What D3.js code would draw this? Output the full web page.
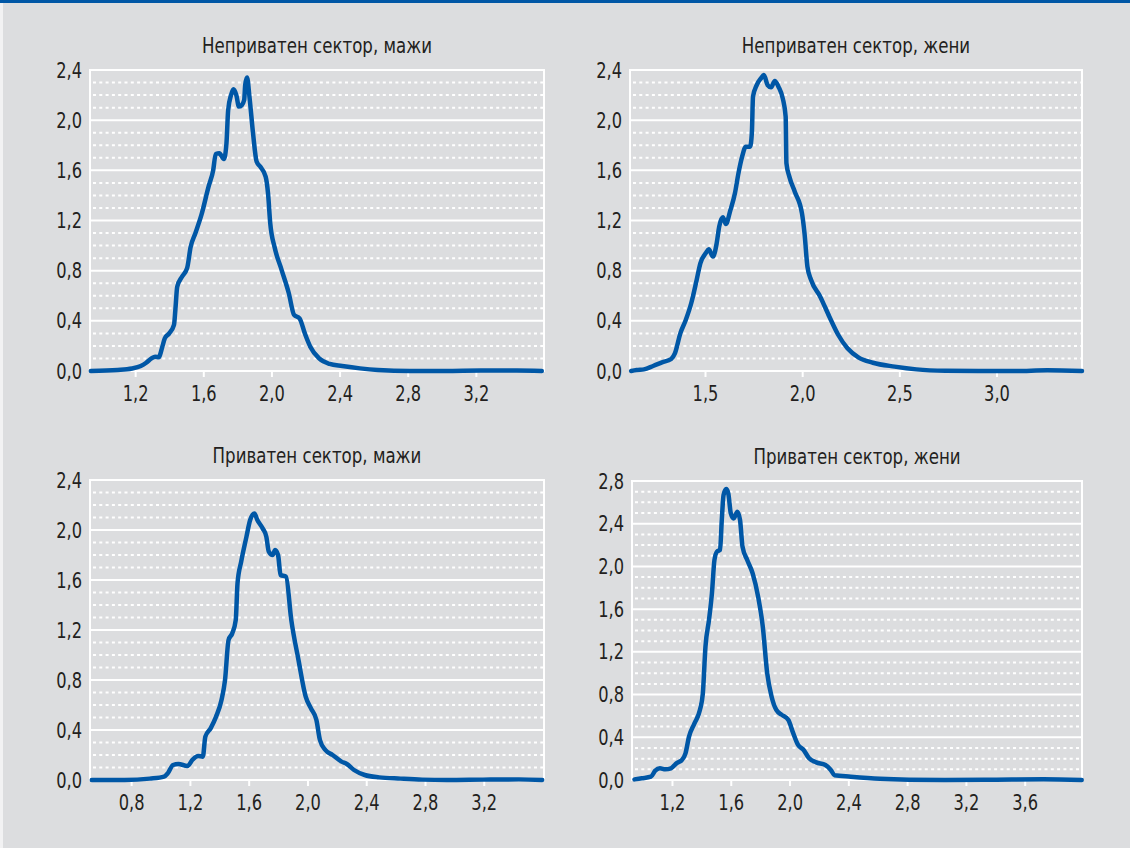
<!DOCTYPE html>
<html>
<head>
<meta charset="utf-8">
<script src="https://cdn.jsdelivr.net/npm/d3@7"></script>
<style>
  html, body { margin: 0; padding: 0; background: #dcdddf; }
  svg { display: block; }
  text { font-family: "Liberation Sans Narrow", "DejaVu Sans Condensed", "Liberation Sans", sans-serif; fill: #231f20; }
</style>
</head>
<body>
<div id="chart"></div>
<script>
// panel titles
var titles = [
  "Неприватен сектор, мажи",
  "Неприватен сектор, жени",
  "Приватен сектор, мажи",
  "Приватен сектор, жени"
];

// tick labels
var xTicksNonPrivMen = [1.2, 1.6, 2.0, 2.4, 2.8, 3.2];
var xTicksNonPrivWomen = [1.5, 2.0, 2.5, 3.0];
var xTicksPrivMen = [0.8, 1.2, 1.6, 2.0, 2.4, 2.8, 3.2];
var xTicksPrivWomen = [1.2, 1.6, 2.0, 2.4, 2.8, 3.2, 3.6];
var yTicks24 = [0, 0.4, 0.8, 1.2, 1.6, 2.0, 2.4];
var yTicks28 = [0, 0.4, 0.8, 1.2, 1.6, 2.0, 2.4, 2.8];

// x ranges shown
var xDomNonPrivMen = [0.935, 3.6];
var xDomNonPrivWomen = [1.114, 3.44];
var xDomPrivMen = [0.52, 3.61];
var xDomPrivWomen = [0.928, 3.99];

// Неприватен сектор, мажи
var xNonPrivMen = [0.94, 1.097, 1.181, 1.233, 1.265, 1.296, 1.317, 1.338, 1.359, 1.374, 1.40, 1.428, 1.436, 1.447,
  1.474, 1.505, 1.526, 1.554, 1.589, 1.631, 1.658, 1.673, 1.694, 1.721, 1.736, 1.746, 1.763, 1.777, 1.794, 1.809,
  1.826, 1.84, 1.846, 1.857, 1.871, 1.892, 1.913, 1.934, 1.966, 1.98, 1.993, 2.018, 2.06, 2.102, 2.133, 2.165,
  2.196, 2.228, 2.28, 2.342, 2.415, 2.52, 2.625, 2.813, 3.02, 3.23, 3.44, 3.587];
var yNonPrivMen = [0, 0.008, 0.02, 0.04, 0.066, 0.10, 0.114, 0.109, 0.19, 0.26, 0.30, 0.367, 0.486, 0.672,
  0.75, 0.82, 0.99, 1.10, 1.244, 1.47, 1.60, 1.73, 1.736, 1.69, 1.815, 2.08, 2.20, 2.246, 2.20, 2.108,
  2.12, 2.16, 2.28, 2.34, 2.187, 1.895, 1.67, 1.63, 1.55, 1.417, 1.178, 0.99, 0.805, 0.62, 0.447, 0.42,
  0.30, 0.194, 0.10, 0.056, 0.04, 0.021, 0.008, 0.0, 0.0, 0.003, 0.003, 0];

// Неприватен сектор, жени
var xNonPrivWomen = [1.12, 1.148, 1.186, 1.233, 1.279, 1.326, 1.345, 1.373, 1.401, 1.429, 1.457, 1.476, 1.504,
  1.519, 1.541, 1.56, 1.573, 1.592, 1.607, 1.631, 1.654, 1.672, 1.691, 1.71, 1.732, 1.741, 1.747, 1.766, 1.788,
  1.803, 1.822, 1.84, 1.859, 1.878, 1.9, 1.915, 1.919, 1.934, 1.962, 1.999, 2.012, 2.027, 2.046, 2.093, 2.14,
  2.186, 2.233, 2.289, 2.364, 2.476, 2.588, 2.738, 2.906, 3.094, 3.262, 3.44];
var yNonPrivWomen = [0, 0.008, 0.013, 0.04, 0.069, 0.096, 0.14, 0.30, 0.407, 0.54, 0.726, 0.859, 0.94,
  0.97, 0.912, 1.018, 1.151, 1.225, 1.172, 1.284, 1.417, 1.576, 1.709, 1.789, 1.789, 1.895, 2.188, 2.28, 2.334,
  2.36, 2.28, 2.262, 2.312, 2.267, 2.174, 2.028, 1.656, 1.55, 1.43, 1.257, 1.098, 0.832, 0.726, 0.593, 0.433,
  0.287, 0.181, 0.109, 0.066, 0.035, 0.013, 0.002, 0, 0, 0.005, 0];

// Приватен сектор, мажи
var xPrivMen = [0.532, 0.756, 0.927, 1.024, 1.049, 1.085, 1.122, 1.183, 1.22, 1.256, 1.288, 1.305, 1.341, 1.378,
  1.415, 1.439, 1.463, 1.488, 1.512, 1.524, 1.549, 1.585, 1.61, 1.639, 1.659, 1.695, 1.72, 1.737, 1.763, 1.78,
  1.80, 1.817, 1.854, 1.89, 1.939, 1.988, 2.024, 2.061, 2.085, 2.122, 2.171, 2.232, 2.268, 2.317, 2.39, 2.488,
  2.634, 2.78, 2.95, 3.195, 3.439, 3.598];
var yPrivMen = [0, 0, 0.011, 0.027, 0.053, 0.12, 0.128, 0.112, 0.165, 0.192, 0.187, 0.347, 0.413, 0.507,
  0.64, 0.80, 1.12, 1.173, 1.28, 1.573, 1.747, 1.947, 2.08, 2.133, 2.08, 2.013, 1.947, 1.827, 1.80, 1.84,
  1.80, 1.64, 1.627, 1.28, 0.96, 0.667, 0.573, 0.48, 0.32, 0.24, 0.20, 0.147, 0.128, 0.08, 0.04, 0.021,
  0.011, 0.003, 0, 0.003, 0.005, 0];

// Приватен сектор, жени
var xPrivWomen = [0.945, 0.995, 1.057, 1.086, 1.118, 1.155, 1.193, 1.23, 1.267, 1.292, 1.316, 1.353, 1.39, 1.41,
  1.428, 1.452, 1.472, 1.489, 1.507, 1.527, 1.539, 1.551, 1.569, 1.583, 1.60, 1.62, 1.645, 1.663, 1.68, 1.712,
  1.749, 1.786, 1.818, 1.848, 1.878, 1.91, 1.947, 1.992, 2.021, 2.058, 2.096, 2.133, 2.182, 2.244, 2.281, 2.306,
  2.417, 2.615, 2.813, 3.06, 3.407, 3.728, 3.988];
var yPrivWomen = [0.006, 0.016, 0.031, 0.087, 0.109, 0.10, 0.109, 0.156, 0.187, 0.25, 0.406, 0.53, 0.656, 0.81,
  1.25, 1.50, 1.75, 2.06, 2.14, 2.154, 2.435, 2.67, 2.725, 2.685, 2.50, 2.45, 2.513, 2.435, 2.185, 2.06,
  1.935, 1.717, 1.436, 0.999, 0.78, 0.656, 0.61, 0.562, 0.453, 0.328, 0.281, 0.203, 0.165, 0.14, 0.094, 0.044,
  0.031, 0.012, 0.003, 0, 0.003, 0.006, 0];

var W = 1130, H = 848;
var blue = "#0057a6";

var fmt = d3.formatLocale({decimal: ",", thousands: " ", grouping: [3], currency: ["", ""]}).format(".1f");

var panels = [
  {title: titles[0], xs: xNonPrivMen, ys: yNonPrivMen, xDom: xDomNonPrivMen, xTicks: xTicksNonPrivMen, yTicks: yTicks24,
   left: 90, right: 544, top: 70, bottom: 371},
  {title: titles[1], xs: xNonPrivWomen, ys: yNonPrivWomen, xDom: xDomNonPrivWomen, xTicks: xTicksNonPrivWomen, yTicks: yTicks24,
   left: 630, right: 1082, top: 70, bottom: 371},
  {title: titles[2], xs: xPrivMen, ys: yPrivMen, xDom: xDomPrivMen, xTicks: xTicksPrivMen, yTicks: yTicks24,
   left: 90, right: 544, top: 480, bottom: 780},
  {title: titles[3], xs: xPrivWomen, ys: yPrivWomen, xDom: xDomPrivWomen, xTicks: xTicksPrivWomen, yTicks: yTicks28,
   left: 632, right: 1082, top: 481, bottom: 780}
];

// squeeze text horizontally to mimic the condensed face of the original
function squeeze(sel, factor) {
  sel.each(function() {
    var w = this.getComputedTextLength();
    d3.select(this).attr("textLength", w * factor).attr("lengthAdjust", "spacingAndGlyphs");
  });
}

var svg = d3.select("#chart").append("svg")
  .attr("width", W)
  .attr("height", H);

svg.append("rect").attr("width", W).attr("height", H).attr("fill", "#dcdddf");
// frame accents
svg.append("rect").attr("x", 0).attr("y", 0).attr("width", 3).attr("height", H).attr("fill", "#f2f2f3");
svg.append("rect").attr("x", 0).attr("y", 0).attr("width", W).attr("height", 3).attr("fill", blue);

panels.forEach(function(p) {
  var yMax = p.yTicks[p.yTicks.length - 1];
  var x = d3.scaleLinear().domain(p.xDom).range([p.left, p.right]);
  var y = d3.scaleLinear().domain([0, yMax]).range([p.bottom, p.top]);

  var g = svg.append("g");

  // minor dotted grid every 0.1
  var minor = d3.range(1, Math.round(yMax * 10)).map(function(i) { return i / 10; })
    .filter(function(v) { return Math.round(v * 10) % 4 !== 0; });
  g.selectAll(".minor").data(minor).enter().append("line")
    .attr("x1", p.left + 3).attr("x2", p.right)
    .attr("y1", function(d) { return y(d); }).attr("y2", function(d) { return y(d); })
    .attr("stroke", "#ffffff").attr("stroke-width", 2)
    .attr("stroke-dasharray", "3,3.3");

  // major solid grid
  g.selectAll(".major").data(p.yTicks).enter().append("line")
    .attr("x1", p.left).attr("x2", p.right)
    .attr("y1", function(d) { return y(d); }).attr("y2", function(d) { return y(d); })
    .attr("stroke", "#ffffff").attr("stroke-width", 2);

  // side borders
  [p.left, p.right].forEach(function(xx) {
    g.append("line").attr("x1", xx).attr("x2", xx).attr("y1", p.top - 1).attr("y2", p.bottom + 1)
      .attr("stroke", "#ffffff").attr("stroke-width", 2);
  });

  // x axis
  var xAxis = d3.axisBottom(x).tickValues(p.xTicks).tickFormat(fmt).tickSize(6).tickPadding(8);
  var ax = g.append("g").attr("transform", "translate(0," + p.bottom + ")").call(xAxis);
  ax.select(".domain").remove();
  ax.selectAll(".tick line").attr("stroke", "#ffffff").attr("stroke-width", 2);
  ax.selectAll(".tick text").attr("font-size", 22).attr("fill", "#231f20");

  // y axis
  var yAxis = d3.axisLeft(y).tickValues(p.yTicks).tickFormat(fmt).tickSize(0).tickPadding(8);
  var ay = g.append("g").attr("transform", "translate(" + p.left + ",0)").call(yAxis);
  ay.select(".domain").remove();
  ay.selectAll(".tick text").attr("font-size", 22).attr("fill", "#231f20");

  g.selectAll(".tick text").attr("font-family", null);
  squeeze(ax.selectAll(".tick text"), 0.82);
  squeeze(ay.selectAll(".tick text"), 0.82);

  // title
  var t = g.append("text")
    .attr("x", (p.left + p.right) / 2)
    .attr("y", p.top - 17)
    .attr("text-anchor", "middle")
    .attr("font-size", 22)
    .text(p.title);
  squeeze(t, 0.84);

  // curve
  var pts = p.xs.map(function(v, i) { return [v, p.ys[i]]; });
  var line = d3.line()
    .x(function(d) { return x(d[0]); })
    .y(function(d) { return y(d[1]); })
    .curve(d3.curveMonotoneX);
  g.append("path")
    .datum(pts)
    .attr("d", line)
    .attr("fill", "none")
    .attr("stroke", blue)
    .attr("stroke-width", 4.5)
    .attr("stroke-linejoin", "round")
    .attr("stroke-linecap", "round");
});
</script>
</body>
</html>
